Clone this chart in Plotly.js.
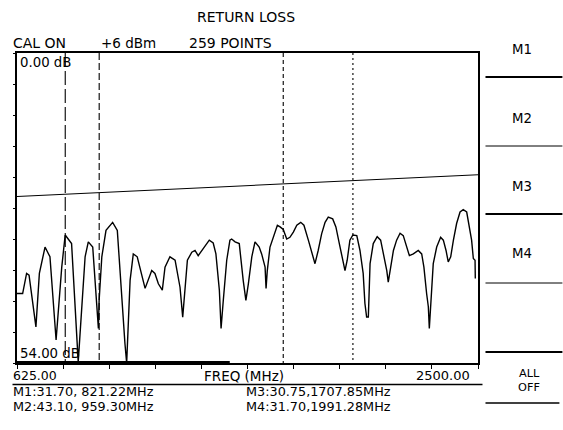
<!DOCTYPE html>
<html><head><meta charset="utf-8">
<script src="https://cdn.plot.ly/plotly-3.0.1.min.js"></script>
<style>html,body{margin:0;padding:0;background:#fff}#chart{width:563px;height:430px}</style>
</head><body><div id="chart"></div>
<script>
// ---- data ----
const freqMHz = [625, 648, 664, 674, 702, 716, 739, 759, 784, 807, 821, 847, 874, 902, 915, 933, 956, 959, 970, 987, 1014, 1033, 1064, 1071, 1085, 1098, 1114, 1132, 1146, 1173, 1186, 1200, 1216, 1227, 1247, 1268, 1288, 1299, 1308, 1318, 1336, 1349, 1362, 1372, 1386, 1407, 1423, 1434, 1448, 1455, 1464, 1478, 1491, 1498, 1512, 1529, 1545, 1556, 1566, 1580, 1593, 1610, 1620, 1634, 1638, 1643, 1654, 1667, 1684, 1695, 1708, 1722, 1735, 1749, 1763, 1779, 1792, 1810, 1824, 1837, 1850, 1864, 1878, 1891, 1909, 1922, 1936, 1950, 1959, 1968, 1979, 1991, 2007, 2020, 2033, 2040, 2047, 2054, 2061, 2074, 2090, 2104, 2118, 2129, 2135, 2145, 2156, 2169, 2183, 2196, 2210, 2221, 2237, 2257, 2271, 2280, 2291, 2298, 2302, 2308, 2318, 2332, 2348, 2359, 2370, 2379, 2389, 2400, 2413, 2427, 2440, 2454, 2465, 2474, 2481, 2488, 2489];
const returnLossDb = [41.9, 41.9, 38.4, 38.7, 47.7, 38.4, 33.8, 35.5, 50.0, 37.3, 31.7, 33.2, 53.8, 35.5, 32.9, 33.8, 48.0, 43.1, 35.5, 30.9, 29.5, 30.9, 50.6, 54.0, 39.6, 35.0, 35.5, 38.4, 41.0, 37.9, 38.4, 40.2, 41.3, 37.3, 35.5, 36.1, 40.8, 46.0, 40.5, 36.1, 34.7, 34.4, 35.3, 34.7, 33.8, 32.6, 33.1, 35.0, 41.3, 48.0, 43.1, 36.1, 32.6, 32.4, 32.9, 33.2, 39.6, 43.1, 40.2, 35.5, 32.9, 33.8, 35.0, 37.3, 41.0, 37.9, 33.8, 32.1, 30.0, 30.3, 30.75, 32.4, 32.1, 31.2, 30.0, 29.5, 30.0, 32.6, 35.0, 36.7, 34.4, 31.5, 29.5, 28.6, 28.9, 30.3, 33.2, 36.1, 37.9, 36.1, 32.6, 31.7, 31.8, 34.4, 38.4, 43.6, 46.0, 46.0, 36.7, 33.2, 32.0, 32.6, 35.5, 37.9, 39.9, 37.3, 34.4, 32.6, 31.4, 31.8, 33.8, 35.3, 35.0, 34.4, 35.0, 37.3, 41.9, 44.2, 48.0, 43.6, 36.7, 33.8, 32.1, 32.6, 34.4, 36.4, 35.5, 32.6, 29.7, 27.7, 27.3, 27.7, 30.3, 32.6, 35.8, 36.1, 39.3];
const limitFreq = [625, 2500];
const limitDb = [25.0, 21.2];
const markerNames = ['M1', 'M2', 'M3', 'M4'];
const markerFreq = [821.22, 959.30, 1707.85, 1991.28];
const markerDb = [31.70, 43.10, 30.75, 31.70];
const softkeyLabels = ['M1', 'M2', 'M3', 'M4'];
const startFreq = 625.00, stopFreq = 2500.00;
const topDb = 0.00, bottomDb = 54.00;
const headerTexts = ['CAL ON', '+6 dBm', '259 POINTS'];
const chartTitle = 'RETURN LOSS';
const xAxisLabel = 'FREQ (MHz)';

// ---- geometry ----
const W = 563, H = 430, L = 17, R = 84.5, T = 53, B = 67;
const px = x => (x - L) / (W - L - R);
const py = y => (H - B - y) / (H - T - B);
const FAM = 'DejaVu Sans, Liberation Sans, Arial, sans-serif';
const font = s => ({family: FAM, size: s, color: '#000'});
const markerDash = ['14px,4px', '7px,3px', '4px,3px', '2px,3px'];

const traces = [];
traces.push({x: freqMHz, y: returnLossDb, type: 'scatter', mode: 'lines',
  line: {color: '#000', width: 1.4}, hoverinfo: 'skip'});
traces.push({x: limitFreq, y: limitDb, type: 'scatter', mode: 'lines',
  line: {color: '#000', width: 1.1}, hoverinfo: 'skip'});
markerFreq.forEach((f, i) => traces.push({x: [f, f], y: [topDb, bottomDb], type: 'scatter', mode: 'lines',
  line: {color: '#000', width: 1.1, dash: markerDash[i]}, hoverinfo: 'skip'}));

const ann = (text, x, y, xa, s) => ({text, x: px(x), y: py(y), xref: 'paper', yref: 'paper',
  xanchor: xa, yanchor: 'middle', showarrow: false, font: font(s), borderpad: 0});
const annotations = [
  ann(chartTitle, 246, 17, 'center', 14),
  ann(headerTexts[0], 12, 43, 'left', 14),
  ann(headerTexts[1], 100, 43, 'left', 13.5),
  ann(headerTexts[2], 188.5, 43, 'left', 14),
  ann(topDb.toFixed(2) + ' dB', 19.5, 63, 'left', 13.3),
  ann(bottomDb.toFixed(2) + ' dB', 19.5, 353, 'left', 13.3),
  ann(startFreq.toFixed(2), 12, 375.5, 'left', 12.5),
  ann(xAxisLabel, 203.5, 375.5, 'left', 13.5),
  ann(stopFreq.toFixed(2), 471.5, 375.5, 'right', 13),
];
const mText = i => markerNames[i] + ':' + markerDb[i].toFixed(2) + ',' + markerFreq[i].toFixed(2).padStart(7, ' ').replace(/ /g, '\u00a0') + 'MHz';
annotations.push(ann(mText(0), 12, 391.5, 'left', 12.8));
annotations.push(ann(mText(1), 12, 406.5, 'left', 12.8));
annotations.push(ann(mText(2), 245.5, 391.5, 'left', 12.8));
annotations.push(ann(mText(3), 245.5, 406.5, 'left', 12.8));
const keyY = [50, 118, 186, 253];
softkeyLabels.forEach((s, i) => annotations.push(ann(s, 522.5, keyY[i], 'center', 13.3)));
annotations.push(ann('ALL', 530, 373.5, 'center', 11.3));
annotations.push(ann('OFF', 530, 387.5, 'center', 11.3));

const hline = (x0, x1, y, w) => ({type: 'line', xref: 'paper', yref: 'paper',
  x0: px(x0), x1: px(x1), y0: py(y), y1: py(y), line: {color: '#000', width: w}});
const shapes = [
  hline(17, 230, 363, 4),
  hline(12.5, 483, 384.5, 1.5),
  hline(486, 563, 77, 2),
  hline(486, 563, 146, 1),
  hline(486, 563, 214, 2),
  hline(486, 563, 283, 1),
  hline(486, 563, 352, 2),
  hline(486, 560, 403, 1.5),
];

const layout = {
  width: W, height: H, margin: {l: L, r: R, t: T, b: B, pad: 0},
  paper_bgcolor: '#fff', plot_bgcolor: '#fff', showlegend: false,
  font: font(13.5),
  xaxis: {range: [startFreq, stopFreq], showgrid: false, zeroline: false,
    showline: true, linecolor: '#000', linewidth: 2, mirror: true,
    ticks: 'outside', ticklen: 4, tickwidth: 1, tickcolor: '#000',
    tick0: startFreq, dtick: (stopFreq - startFreq) / 10, showticklabels: false},
  yaxis: {range: [bottomDb, topDb], showgrid: false, zeroline: false,
    showline: true, linecolor: '#000', linewidth: 2, mirror: true,
    ticks: 'outside', ticklen: 2, tickwidth: 1, tickcolor: '#000',
    tick0: topDb, dtick: (bottomDb - topDb) / 10, showticklabels: false},
  annotations, shapes
};
Plotly.newPlot('chart', traces, layout, {displayModeBar: false, staticPlot: true});
</script></body></html>
